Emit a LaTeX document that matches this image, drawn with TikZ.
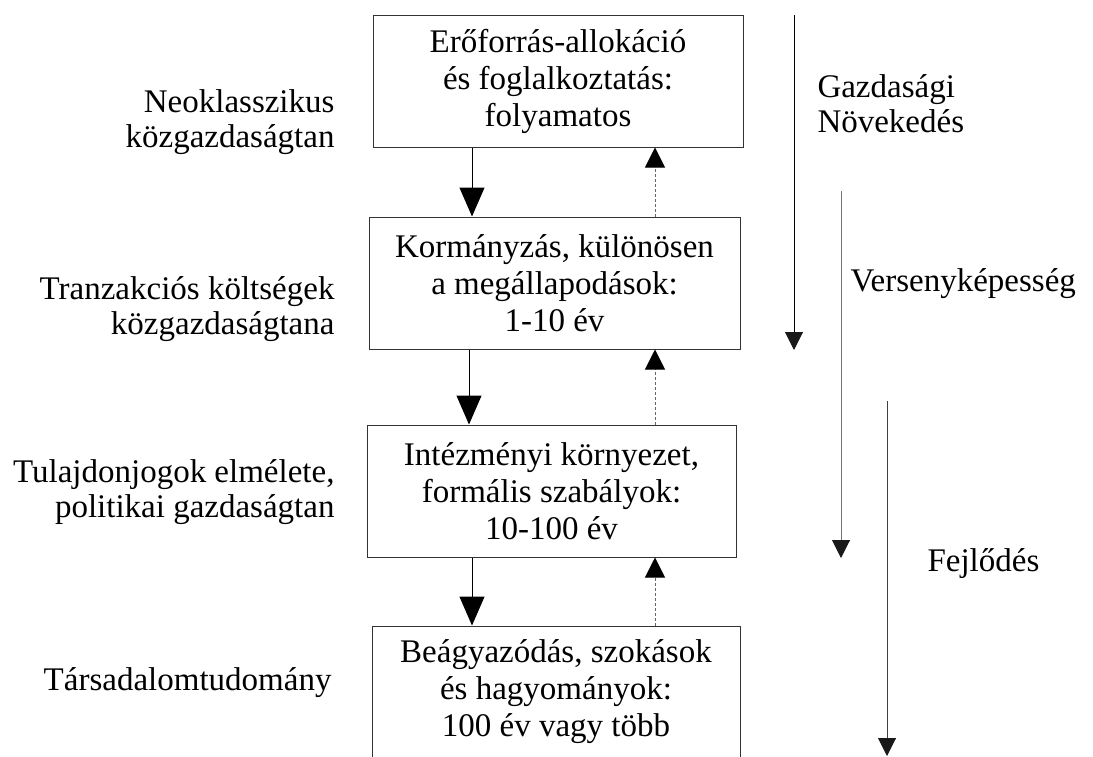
\documentclass[tikz,border=0pt]{standalone}
\usepackage{fontspec}
\setmainfont{Liberation Serif}
\usetikzlibrary{arrows.meta}

\begin{document}
\begin{tikzpicture}[x=1pt,y=-1pt,line width=1pt,
                    font=\fontsize{33}{35}\selectfont,
                    box/.style={draw=black!80,align=center,minimum height=132pt,inner sep=0pt,
                                font=\fontsize{33}{37}\selectfont},
                    lbl/.style={align=right,anchor=east,inner sep=0pt},
                    rlbl/.style={align=left,anchor=west,inner sep=0pt},
                    down/.style={-{Triangle[width=25pt,length=29pt]}},
                    up/.style={-{Triangle[width=20pt,length=20pt,color=black]},black!60,dash pattern=on 3pt off 2pt},
                    trend/.style={-{Triangle[width=18pt,length=18pt,color=black!90]}}]
  \useasboundingbox (0,0) rectangle (1093,756);

  % levels
  \node[box,minimum width=370pt] (alloc) at (558,81)   {Erőforrás-allokáció\\és foglalkoztatás:\\folyamatos};
  \node[box,minimum width=371pt] (gov)   at (554.5,283) {Kormányzás, különösen\\a megállapodások:\\1-10 év};
  \node[box,minimum width=369pt] (inst)  at (551.5,491) {Intézményi környezet,\\formális szabályok:\\10-100 év};
  \node[box,minimum width=368pt] (emb)   at (556,692)   {Beágyazódás, szokások\\és hagyományok:\\100 év vagy több};

  % theories
  \node[lbl] (neo)  at (335,122) {Neoklasszikus\\közgazdaságtan};
  \node[lbl] (tce)  at (335,309) {Tranzakciós költségek\\közgazdaságtana};
  \node[lbl] (prop) at (335,492) {Tulajdonjogok elmélete,\\politikai gazdaságtan};
  \node[lbl] (soc)  at (332,683) {Társadalomtudomány};

  \draw[down] (alloc.south -| 472,0) -- (gov.north -| 472,0);
  \draw[down] (gov.south -| 469,0)   -- (inst.north -| 469,0);
  \draw[down] (inst.south -| 472,0)  -- (emb.north -| 472,0);
  \draw[up] (gov.north -| 655,0)  -- (alloc.south -| 655,0);
  \draw[up] (inst.north -| 655,0) -- (gov.south -| 655,0);
  \draw[up] (emb.north -| 655,0)  -- (inst.south -| 655,0);

  % time scales on the right
  \coordinate (g1) at (794,15);  \coordinate (g2) at (794,350);
  \coordinate (v1) at (841,191); \coordinate (v2) at (841,558);
  \coordinate (f1) at (887,401); \coordinate (f2) at (887,756);
  \draw[trend] (g1) -- (g2);
  \draw[trend,black!55] (v1) -- (v2);
  \draw[trend,black!75] (f1) -- (f2);

  \node[rlbl] (growth) at (817,104) {Gazdasági\\Növekedés};
  \node[rlbl] (comp)   at (850,284) {Versenyképesség};
  \node[rlbl] (dev)    at (927,564) {Fejlődés};
\end{tikzpicture}
\end{document}
